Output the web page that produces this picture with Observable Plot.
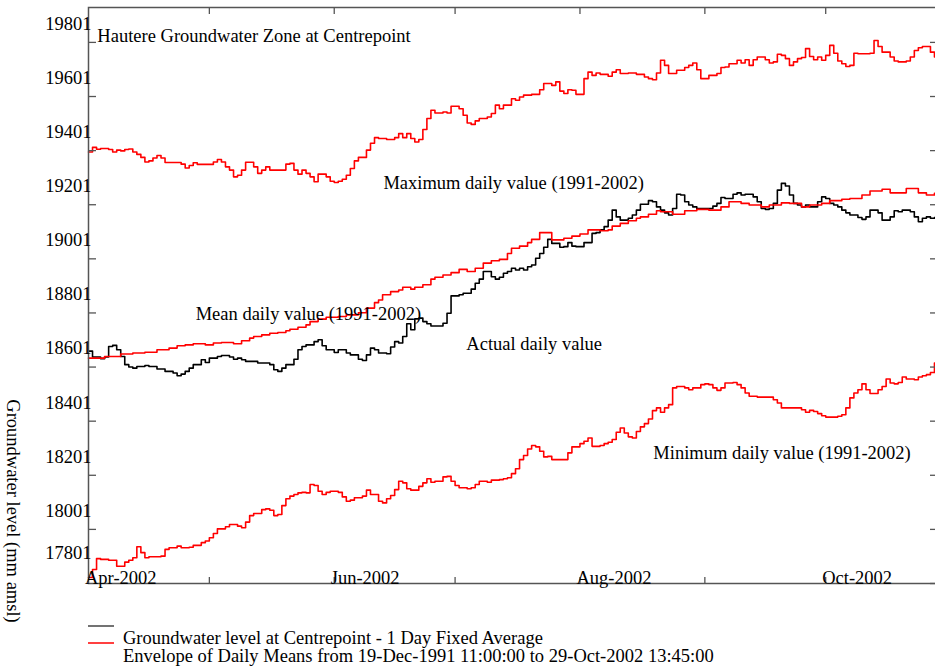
<!DOCTYPE html>
<html><head><meta charset="utf-8">
<script src="https://cdn.jsdelivr.net/npm/d3@7"></script>
<script src="https://cdn.jsdelivr.net/npm/@observablehq/plot@0.6"></script>
<style>html,body{margin:0;padding:0;overflow:hidden;background:#fff}</style>
</head><body><div id="chart"></div>
<script>
// Day offsets from 1-Apr-2002 and groundwater levels (mm amsl)
const maxDay = [0,1,2,3,5,6,7,8,9,10,11,12,13,14,15,16,17,18,19,23,24,25,26,27,31,32,33,34,35,36,37,38,39,41,42,43,44,45,49,50,51,52,53,54,55,56,57,59,60,61,62,63,64,65,66,67,69,70,71,72,74,76,77,78,79,80,81,82,83,84,85,86,88,89,90,92,93,94,95,96,97,99,100,101,102,103,105,106,107,108,110,112,113,115,116,117,118,119,120,121,123,124,125,126,127,129,130,131,132,134,136,138,139,140,141,142,143,144,146,148,149,150,151,152,154,156,157,158,159,161,162,163,164,165,166,168,169,170,171,172,173,174,175,176,177,178,179,180,181,182,183,184,185,186,187,188,189,190,191,194,195,196,197,199,200,201,203,204,205,206,207,209,210,211];
const maxVal = [19396,19413,19406,19409,19405,19396,19403,19400,19405,19407,19396,19387,19376,19359,19363,19374,19383,19374,19357,19351,19337,19346,19356,19350,19359,19368,19359,19341,19329,19304,19310,19329,19358,19341,19317,19329,19341,19329,19351,19354,19329,19314,19329,19317,19304,19286,19314,19304,19288,19283,19288,19295,19310,19335,19363,19376,19403,19428,19449,19446,19442,19449,19464,19449,19464,19446,19433,19442,19479,19520,19550,19540,19544,19540,19565,19556,19532,19503,19498,19511,19520,19525,19538,19569,19556,19569,19593,19587,19599,19606,19609,19626,19649,19642,19655,19621,19612,19626,19624,19609,19667,19691,19679,19688,19683,19676,19691,19700,19686,19688,19683,19673,19667,19663,19688,19735,19716,19686,19698,19708,19716,19725,19700,19667,19679,19686,19708,19710,19722,19735,19725,19737,19716,19737,19747,19737,19725,19729,19757,19753,19741,19716,19729,19741,19745,19778,19749,19737,19747,19735,19753,19790,19761,19732,19722,19712,19716,19761,19759,19761,19808,19786,19765,19747,19732,19729,19732,19747,19771,19781,19786,19765,19747,19747];

const meanDay = [0,4,8,11,14,17,20,22,24,26,29,31,33,36,38,40,41,43,45,47,49,50,52,54,55,57,59,62,64,67,69,71,72,73,75,77,78,80,81,83,85,86,88,90,92,94,96,98,100,102,104,105,107,109,110,112,115,118,120,122,124,127,129,130,132,134,136,137,139,141,142,145,148,151,154,157,159,162,164,167,169,172,174,177,179,182,184,187,189,192,194,197,199,202,203,206,208,210,211];
const meanVal = [18634,18640,18649,18653,18656,18665,18671,18680,18683,18687,18683,18690,18692,18687,18698,18708,18714,18720,18726,18729,18735,18741,18748,18757,18769,18778,18785,18788,18794,18802,18819,18839,18849,18868,18880,18886,18896,18889,18896,18905,18926,18933,18941,18950,18962,18954,18966,18985,18994,18999,19021,19040,19048,19061,19073,19098,19071,19077,19085,19093,19108,19105,19108,19122,19132,19142,19151,19156,19166,19179,19175,19166,19179,19184,19181,19193,19212,19206,19200,19193,19200,19208,19206,19193,19200,19206,19216,19221,19224,19237,19252,19258,19245,19245,19261,19245,19237,19243,19243];

const actDay = [0,1,3,4,5,6,7,8,9,10,11,12,14,15,17,19,21,22,23,24,25,26,28,29,30,32,33,35,36,37,38,39,42,45,46,47,48,49,51,52,53,54,56,57,58,59,61,62,64,65,67,68,69,70,71,72,74,75,76,77,78,79,80,81,82,83,84,85,88,89,90,92,93,95,96,97,98,100,101,102,103,104,105,106,107,108,109,110,111,112,113,114,115,117,118,119,120,121,123,125,126,127,128,129,130,131,132,134,135,136,137,139,140,141,142,143,144,145,146,147,148,149,150,151,155,156,157,158,160,161,162,163,165,166,167,168,169,170,171,172,173,174,175,176,177,178,179,181,182,183,184,185,186,187,188,189,191,192,193,194,196,197,199,200,201,202,204,205,206,207,208,209,210,211];
const actVal = [18660,18638,18632,18638,18677,18681,18665,18640,18610,18601,18597,18603,18607,18603,18594,18585,18579,18569,18575,18585,18597,18610,18628,18618,18634,18640,18644,18638,18630,18634,18628,18622,18616,18610,18591,18585,18597,18610,18630,18665,18677,18683,18695,18702,18680,18665,18655,18665,18653,18646,18630,18625,18646,18671,18665,18653,18650,18675,18695,18690,18714,18761,18739,18779,18782,18769,18761,18753,18763,18800,18864,18868,18874,18889,18911,18926,18954,18935,18926,18933,18948,18954,18966,18960,18966,18960,18972,18978,19003,19021,19044,19073,19058,19044,19046,19061,19048,19046,19061,19095,19098,19108,19120,19144,19181,19156,19144,19151,19163,19181,19203,19216,19212,19193,19181,19171,19163,19187,19240,19237,19212,19200,19193,19187,19196,19206,19228,19224,19240,19245,19237,19240,19230,19212,19187,19184,19187,19206,19255,19280,19270,19237,19206,19200,19193,19200,19193,19212,19230,19224,19206,19200,19193,19181,19171,19163,19154,19147,19156,19181,19171,19144,19156,19179,19175,19181,19175,19156,19138,19151,19156,19151,19154,19154];

const minDay = [0,1,2,3,5,7,9,10,11,12,13,14,15,18,19,20,22,23,25,26,28,29,30,31,32,34,35,37,38,39,40,41,43,44,45,46,47,48,49,50,51,52,53,54,55,56,57,58,59,60,62,63,64,65,66,68,69,70,72,73,74,75,76,77,78,79,80,82,83,84,85,86,88,89,90,91,92,94,95,96,97,99,100,102,103,104,105,106,107,108,109,110,111,112,113,114,115,119,120,122,123,124,125,127,128,129,130,131,132,133,134,135,136,137,138,139,140,141,142,143,144,145,146,148,149,150,152,153,154,155,156,157,158,160,161,162,163,164,166,170,171,172,177,178,179,180,181,182,183,186,187,188,189,190,191,192,193,194,196,197,198,199,200,201,202,203,205,206,207,208,209,210,211];
const minVal = [17823,17853,17893,17890,17887,17865,17880,17887,17896,17937,17915,17896,17900,17902,17927,17933,17939,17933,17935,17942,17952,17958,17970,17986,18003,18011,18019,18013,18007,18028,18052,18060,18074,18077,18072,18052,18056,18089,18114,18124,18130,18136,18138,18136,18167,18163,18142,18130,18138,18142,18138,18121,18105,18109,18118,18124,18146,18130,18105,18099,18114,18126,18148,18179,18173,18151,18146,18160,18173,18188,18175,18179,18195,18197,18179,18163,18155,18151,18155,18167,18179,18175,18183,18185,18188,18192,18207,18225,18259,18274,18298,18311,18306,18290,18269,18271,18259,18284,18306,18318,18327,18339,18308,18311,18318,18323,18333,18360,18376,18357,18343,18339,18363,18380,18392,18409,18440,18450,18434,18450,18462,18524,18529,18524,18517,18524,18536,18539,18536,18524,18515,18524,18542,18544,18536,18524,18505,18493,18490,18480,18468,18450,18443,18434,18441,18437,18429,18421,18416,18419,18425,18450,18487,18505,18517,18539,18517,18503,18517,18529,18557,18542,18539,18544,18564,18557,18554,18564,18569,18573,18581,18616,18616];

// Axis ticks and labels
const yTicks = [17801,18001,18201,18401,18601,18801,19001,19201,19401,19601,19801];
const monthTicks = ["2002-05-01","2002-06-01","2002-07-01","2002-08-01","2002-09-01","2002-10-01"];
const monthLabelDates = ["2002-04-01","2002-06-01","2002-08-01","2002-10-01"];
const monthLabels = ["Apr-2002","Jun-2002","Aug-2002","Oct-2002"];

// In-plot annotations
const noteText = ["Hautere Groundwater Zone at Centrepoint","Maximum daily value (1991-2002)","Mean daily value (1991-2002)","Actual daily value","Minimum daily value (1991-2002)"];
const noteDay = [2.2, 73.2, 26.6, 93.8, 140.2];
const noteVal = [19823, 19280, 18796, 18685, 18282];

const legendText = ["Groundwater level at Centrepoint - 1 Day Fixed Average","Envelope of Daily Means from 19-Dec-1991 11:00:00 to 29-Oct-2002 13:45:00"];
const yTitle = "Groundwater level (mm amsl)";

const t0 = Date.UTC(2002, 3, 1);
const toDate = d => new Date(t0 + d * 864e5);
const series = (days, vals) => days.map((d, i) => ({date: toDate(d), value: vals[i]}));
const maxData = series(maxDay, maxVal);
const meanData = series(meanDay, meanVal);
const actData = series(actDay, actVal);
const minData = series(minDay, minVal);

const W = 940, H = 666, ML = 88, MR = 2, MT = 7, MB = 83;
const FW = W - ML - MR, FH = H - MT - MB;
const frameGray = "#555";
const FONT = "'Liberation Serif','Times New Roman',serif";

const plot = Plot.plot({
  width: W, height: H,
  marginTop: MT, marginBottom: MB, marginLeft: ML, marginRight: MR,
  x: {type: "utc", domain: [toDate(0), toDate(211)], axis: null},
  y: {domain: [17801, 19930], axis: null},
  style: {fontFamily: FONT, fontSize: "18.5px", background: "white", color: "black", overflow: "hidden"},
  marks: [
    Plot.line(maxData, {x: "date", y: "value", curve: "step-after", stroke: "#ff0000", strokeWidth: 1.6}),
    Plot.line(minData, {x: "date", y: "value", curve: "step-after", stroke: "#ff0000", strokeWidth: 1.6}),
    Plot.line(actData, {x: "date", y: "value", curve: "step-after", stroke: "#000", strokeWidth: 1.6}),
    Plot.line(meanData, {x: "date", y: "value", curve: "step-after", stroke: "#ff0000", strokeWidth: 1.6}),
    Plot.frame({stroke: frameGray, strokeWidth: 1.5}),
    Plot.tickY(yTicks.slice(1), {y: d => d, stroke: frameGray, strokeWidth: 1.3, insetRight: FW - 8}),
    Plot.tickY(yTicks, {y: d => d, stroke: frameGray, strokeWidth: 1.3, insetLeft: FW - 8}),
    Plot.tickX(monthTicks, {x: d => new Date(d), stroke: frameGray, strokeWidth: 1.3, insetBottom: FH - 7}),
    Plot.tickX(monthTicks, {x: d => new Date(d), stroke: frameGray, strokeWidth: 1.3, insetTop: FH - 6}),
    Plot.text(yTicks.slice(1), {y: d => d, text: d => String(d), frameAnchor: "left", textAnchor: "end", dx: 3, dy: -18.5}),
    Plot.text(yTicks.slice(0, 1), {y: d => d, text: d => String(d), frameAnchor: "left", textAnchor: "end", dx: 3, dy: -30}),
    Plot.text(monthLabels, {x: (d, i) => new Date(monthLabelDates[i]), text: d => d, frameAnchor: "bottom", textAnchor: "start", dx: -3.5}),
    Plot.text(noteText, {x: (d, i) => toDate(noteDay[i]), y: (d, i) => noteVal[i], text: d => d, textAnchor: "start"})
  ]
});
plot.style.maxWidth = "none";
document.getElementById("chart").appendChild(plot);

const svg = d3.select(plot);
svg.append("text")
  .attr("transform", "translate(13,511) rotate(90)")
  .attr("text-anchor", "middle").attr("dy", "0.32em")
  .attr("fill", "black").attr("font-family", FONT).attr("font-size", "18.5px")
  .text(yTitle);
svg.append("line").attr("x1", 88).attr("x2", 114).attr("y1", 626).attr("y2", 626)
  .attr("stroke", "#444").attr("stroke-width", 1.5);
svg.append("line").attr("x1", 88).attr("x2", 114).attr("y1", 643).attr("y2", 643)
  .attr("stroke", "#ff0000").attr("stroke-width", 1.5);
legendText.forEach((t, i) => {
  svg.append("text").attr("x", 123).attr("y", 644 + i * 17.5)
    .attr("text-anchor", "start").attr("fill", "black")
    .attr("font-family", FONT).attr("font-size", "18.5px")
    .text(t);
});
</script>
</body></html>
